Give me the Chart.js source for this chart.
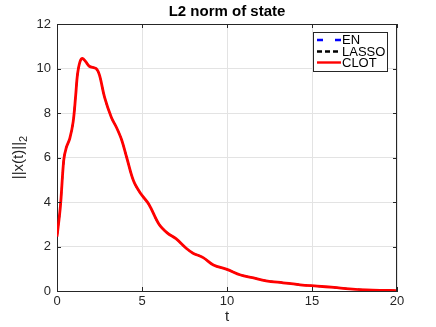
<!DOCTYPE html>
<html>
<head>
<meta charset="utf-8">
<script src="https://cdn.jsdelivr.net/npm/chart.js@4.4.1/dist/chart.umd.min.js"></script>
<style>
  html, body { margin: 0; padding: 0; background: #fff; }
  #wrap { width: 436px; height: 327px; }
</style>
</head>
<body>
<div id="wrap"><canvas id="chart" width="436" height="327"></canvas></div>
<script>
// ---- data ----
const timeValues = [0, 0.2, 0.4, 0.55, 0.75, 0.95, 1.1, 1.2, 1.35, 1.5, 1.7, 1.9, 2.3, 2.5, 2.8, 3.2, 3.5, 3.8, 4.1, 4.5, 4.9, 5.4,
  6.0, 6.5, 7.0, 7.6, 8.0, 8.6, 9.2, 10.0, 10.8, 11.5, 12.3, 13.3, 14.3, 15.3, 16.3, 17.2, 18.2, 19.0, 20];
const clotValues = [2.44, 3.8, 5.9, 6.45, 6.85, 7.6, 8.8, 9.7, 10.3, 10.45, 10.3, 10.1, 10.0, 9.7, 8.7, 7.8, 7.35, 6.8, 6.0, 4.95, 4.4, 3.9,
  3.0, 2.6, 2.35, 1.92, 1.7, 1.5, 1.17, 0.97, 0.72, 0.6, 0.46, 0.37, 0.28, 0.22, 0.16, 0.1, 0.05, 0.03, 0.02];
// EN and LASSO lie exactly under the CLOT curve
const enValues    = clotValues.slice();
const lassoValues = clotValues.slice();

const seriesNames = ['EN', 'LASSO', 'CLOT'];
const xTicks = [0, 5, 10, 15, 20];
const yTicks = [0, 2, 4, 6, 8, 10, 12];

const AXIS = '#262626';
const FONT = '"Liberation Sans", Arial, Helvetica, sans-serif';

const toPoints = vals => vals.map((v, i) => ({ x: timeValues[i], y: v }));

// MATLAB style frame: box, inward ticks, title, labels, legend
const matlabFrame = {
  id: 'matlabFrame',
  afterDraw(chart) {
    const { ctx, chartArea: a, scales } = chart;
    const xs = scales.x, ys = scales.y;
    ctx.save();
    ctx.strokeStyle = AXIS;
    ctx.lineWidth = 1;

    // top + right edges
    ctx.beginPath();
    ctx.moveTo(a.left, a.top + 0.5); ctx.lineTo(a.right, a.top + 0.5);
    ctx.moveTo(a.right - 0.5, a.top); ctx.lineTo(a.right - 0.5, a.bottom);
    ctx.stroke();

    // inward ticks
    const tl = 4;
    ctx.beginPath();
    xTicks.forEach(t => {
      const px = Math.round(xs.getPixelForValue(t)) + 0.5;
      ctx.moveTo(px, a.bottom); ctx.lineTo(px, a.bottom - tl);
      ctx.moveTo(px, a.top); ctx.lineTo(px, a.top + tl);
    });
    yTicks.forEach(t => {
      const py = Math.round(ys.getPixelForValue(t)) + 0.5;
      ctx.moveTo(a.left, py); ctx.lineTo(a.left + tl, py);
      ctx.moveTo(a.right, py); ctx.lineTo(a.right - tl, py);
    });
    ctx.stroke();

    // title
    ctx.fillStyle = '#000';
    ctx.font = 'bold 15px ' + FONT;
    ctx.textAlign = 'center';
    ctx.textBaseline = 'middle';
    ctx.fillText('L2 norm of state', (a.left + a.right) / 2, 12);

    // x label
    ctx.fillStyle = AXIS;
    ctx.font = '15px ' + FONT;
    ctx.fillText('t', (a.left + a.right) / 2, 317);

    // y label with subscript
    ctx.save();
    ctx.translate(19, (a.top + a.bottom) / 2);
    ctx.rotate(-Math.PI / 2);
    ctx.font = '15px ' + FONT;
    const main = '||x(t)||';
    const w1 = ctx.measureText(main).width;
    ctx.font = '11px ' + FONT;
    const w2 = ctx.measureText('2').width;
    const x0 = -(w1 + w2) / 2;
    ctx.textAlign = 'left';
    ctx.font = '15px ' + FONT;
    ctx.fillText(main, x0, 0);
    ctx.font = '11px ' + FONT;
    ctx.fillText('2', x0 + w1, 5);
    ctx.restore();

    // legend
    const lx = 313, ly = 32, lw = 74, lh = 39;
    ctx.fillStyle = '#fff';
    ctx.fillRect(lx, ly, lw, lh);
    ctx.strokeStyle = AXIS;
    ctx.strokeRect(lx + 0.5, ly + 0.5, lw, lh);
    const rows = [
      { name: seriesNames[0], color: '#0000ff', dash: [6, 12], y: 40 },
      { name: seriesNames[1], color: '#000000', dash: [5, 3], y: 51.5 },
      { name: seriesNames[2], color: '#ff0000', dash: [],     y: 62.5 },
    ];
    ctx.font = '13px ' + FONT;
    ctx.textAlign = 'left';
    rows.forEach(r => {
      ctx.strokeStyle = r.color;
      ctx.lineWidth = 2.4;
      ctx.setLineDash(r.dash);
      ctx.beginPath();
      ctx.moveTo(317, r.y); ctx.lineTo(341, r.y);
      ctx.stroke();
      ctx.setLineDash([]);
      ctx.fillStyle = '#000';
      ctx.fillText(r.name, 342, r.y + 0.5);
    });
    ctx.restore();
  }
};

const lineStyle = {
  pointRadius: 0,
  fill: false,
  tension: 0.35,
};

new Chart(document.getElementById('chart').getContext('2d'), {
  type: 'line',
  data: {
    datasets: [
      { label: seriesNames[0], data: toPoints(enValues),    borderColor: '#0000ff', borderDash: [6, 12], borderWidth: 1.6, order: 3, ...lineStyle },
      { label: seriesNames[1], data: toPoints(lassoValues), borderColor: '#000000', borderDash: [5, 3], borderWidth: 1.6, order: 2, ...lineStyle },
      { label: seriesNames[2], data: toPoints(clotValues),  borderColor: '#ff0000', borderWidth: 2.8, order: 1, ...lineStyle },
    ],
  },
  options: {
    responsive: false,
    animation: false,
    devicePixelRatio: 1,
    layout: { padding: { left: 0, right: 39, top: 24, bottom: 0 } },
    plugins: {
      legend: { display: false },
      title: { display: false },
      tooltip: { enabled: false },
    },
    scales: {
      x: {
        type: 'linear', min: 0, max: 20,
        afterFit: s => { s.height = 36; },
        afterBuildTicks: s => { s.ticks = xTicks.map(v => ({ value: v })); },
        ticks: { color: AXIS, font: { size: 13, family: FONT }, padding: 3, maxRotation: 0 },
        grid: { color: '#e3e3e3', drawTicks: false },
        border: { color: AXIS, width: 1 },
      },
      y: {
        type: 'linear', min: 0, max: 12,
        afterFit: s => { s.width = 57; },
        afterBuildTicks: s => { s.ticks = yTicks.map(v => ({ value: v })); },
        ticks: { color: AXIS, font: { size: 13, family: FONT }, padding: 6 },
        grid: { color: '#e3e3e3', drawTicks: false },
        border: { color: AXIS, width: 1 },
      },
    },
  },
  plugins: [matlabFrame],
});
</script>
</body>
</html>
